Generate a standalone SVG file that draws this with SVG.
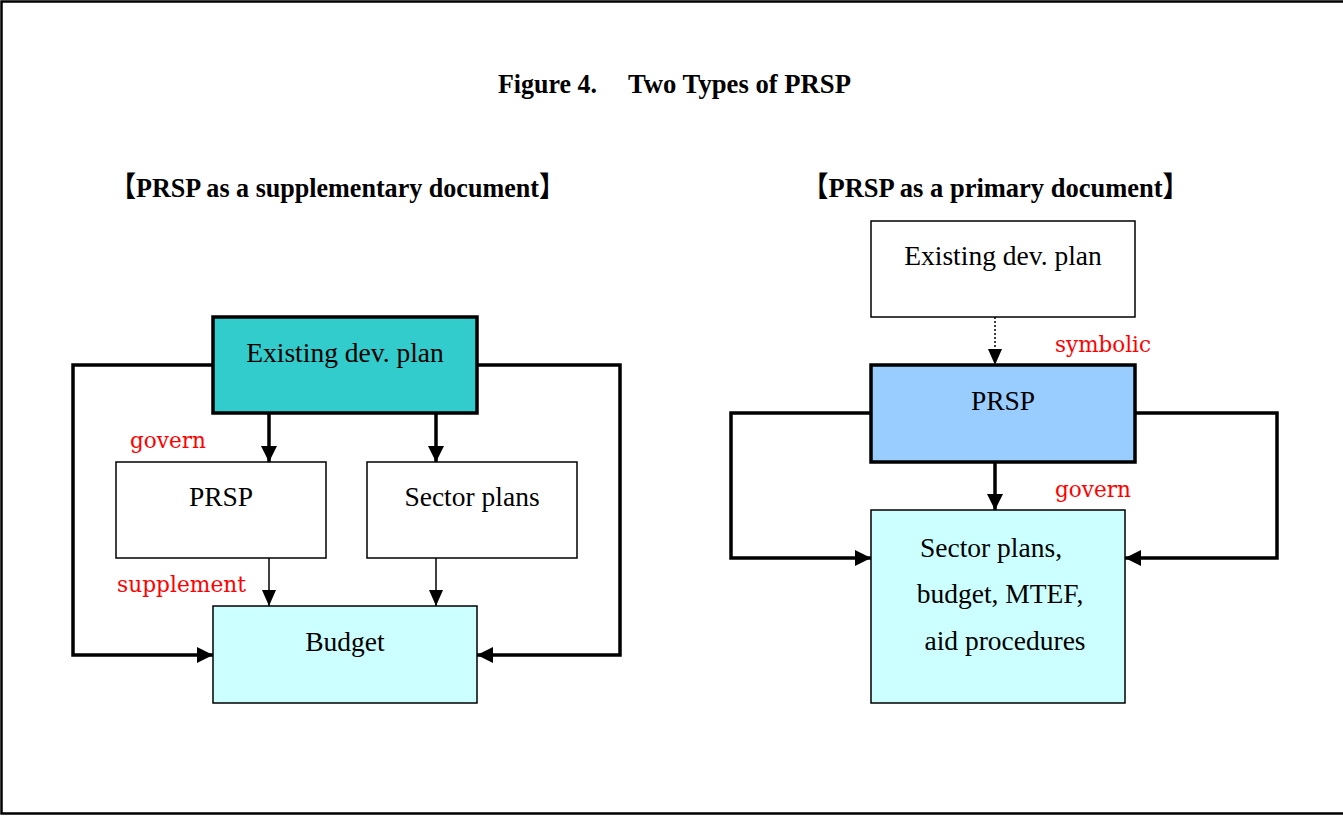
<svg xmlns="http://www.w3.org/2000/svg" width="1343" height="816" viewBox="0 0 1343 816">
<style>
.node{stroke:#000;}
.thin{stroke-width:1.5;}
.thick{stroke-width:3.5;}
.lbl{font-family:"Liberation Serif","Times New Roman",serif;font-size:27.5px;fill:#000;text-anchor:middle;}
.red{font-family:"DejaVu Serif","Liberation Serif",serif;font-size:23px;fill:#FF0000;}
.hdr{font-family:"Liberation Serif","Noto Sans CJK JP",serif;font-weight:bold;font-size:28px;fill:#000;}
.ttl{font-family:"Liberation Serif","Times New Roman",serif;font-weight:bold;font-size:27px;fill:#000;}
.c{fill:none;stroke:#000;}
.ct{stroke-width:3.5;}
.cn{stroke-width:1.5;}
</style>
<defs>
<marker id="ah" markerUnits="userSpaceOnUse" markerWidth="16" markerHeight="16" refX="16" refY="8" orient="auto" viewBox="0 0 16 16">
<path d="M0,0 L16,8 L0,16 z" fill="#000"/>
</marker>
<marker id="ahs" markerUnits="userSpaceOnUse" markerWidth="16" markerHeight="16" refX="16" refY="8" orient="auto" viewBox="0 0 16 16">
<path d="M0,1 L16,8 L0,15 z" fill="#000"/>
</marker>
</defs>
<rect x="0" y="0" width="1343" height="816" fill="#fff"/>
<path d="M1343,1.5 H1.5 V813.5 H1343" fill="none" stroke="#000" stroke-width="2.5"/>

<g id="title">
<text class="ttl" x="498" y="93" textLength="99" lengthAdjust="spacingAndGlyphs">Figure 4.</text>
<text class="ttl" x="628" y="93" textLength="223" lengthAdjust="spacingAndGlyphs">Two Types of PRSP</text>
</g>
<g id="heading-left">
<text x="110" y="197" class="hdr" textLength="455" lengthAdjust="spacingAndGlyphs">【PRSP as a supplementary document】</text>
</g>
<g id="heading-right">
<text x="802" y="197" class="hdr" textLength="387" lengthAdjust="spacingAndGlyphs">【PRSP as a primary document】</text>
</g>

<g id="connectors">
<!-- left diagram -->
<line class="c ct" x1="269" y1="413" x2="269" y2="462" marker-end="url(#ah)"/>
<line class="c ct" x1="436" y1="413" x2="436" y2="462" marker-end="url(#ah)"/>
<line class="c cn" x1="269" y1="558" x2="269" y2="606" marker-end="url(#ahs)"/>
<line class="c cn" x1="436" y1="558" x2="436" y2="606" marker-end="url(#ahs)"/>
<path class="c ct" d="M213,365 H73 V655 H213" marker-end="url(#ah)"/>
<path class="c ct" d="M477,365 H620 V655 H477" marker-end="url(#ah)"/>
<!-- right diagram -->
<line class="c" stroke-width="1.5" stroke-dasharray="2,2" x1="995" y1="317" x2="995" y2="365" marker-end="url(#ahs)"/>
<line class="c ct" x1="995" y1="462" x2="995" y2="510" marker-end="url(#ah)"/>
<path class="c ct" d="M871,413 H731 V558 H871" marker-end="url(#ah)"/>
<path class="c ct" d="M1135,413 H1277 V558 H1125" marker-end="url(#ah)"/>
</g>

<g id="left-existing">
<rect class="node thick" x="213" y="317" width="264" height="96" fill="#33CCCC"/>
<text class="lbl" x="345" y="362">Existing dev. plan</text>
</g>
<g id="left-prsp">
<rect class="node thin" x="116" y="462" width="210" height="96" fill="#fff"/>
<text class="lbl" x="221" y="506">PRSP</text>
</g>
<g id="left-sector">
<rect class="node thin" x="367" y="462" width="210" height="96" fill="#fff"/>
<text class="lbl" x="472" y="506">Sector plans</text>
</g>
<g id="left-budget">
<rect class="node thin" x="213" y="606" width="264" height="97" fill="#CCFFFF"/>
<text class="lbl" x="345" y="651">Budget</text>
</g>
<g id="left-labels">
<text class="red" x="130" y="448" textLength="76" lengthAdjust="spacingAndGlyphs">govern</text>
<text class="red" x="117" y="592" textLength="129" lengthAdjust="spacingAndGlyphs">supplement</text>
</g>

<g id="right-existing">
<rect class="node thin" x="871" y="221" width="264" height="96" fill="#fff"/>
<text class="lbl" x="1003" y="265">Existing dev. plan</text>
</g>
<g id="right-prsp">
<rect class="node thick" x="871" y="365" width="264" height="97" fill="#99CCFF"/>
<text class="lbl" x="1003" y="410">PRSP</text>
</g>
<g id="right-sector">
<rect class="node thin" x="871" y="510" width="254" height="193" fill="#CCFFFF"/>
<text class="lbl" x="991" y="557">Sector plans,</text>
<text class="lbl" x="1000" y="603">budget, MTEF,</text>
<text class="lbl" x="1005" y="650">aid procedures</text>
</g>
<g id="right-labels">
<text class="red" x="1055" y="352" textLength="96" lengthAdjust="spacingAndGlyphs">symbolic</text>
<text class="red" x="1055" y="497" textLength="76" lengthAdjust="spacingAndGlyphs">govern</text>
</g>
</svg>
